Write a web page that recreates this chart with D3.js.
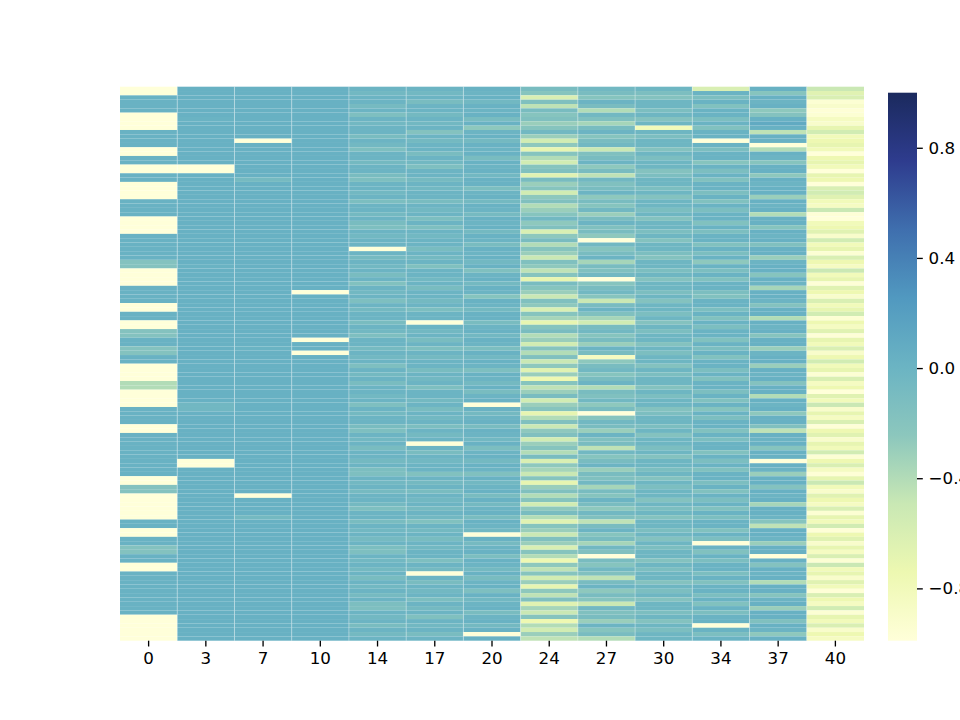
<!DOCTYPE html>
<html>
<head>
<meta charset="utf-8">
<script src="https://cdn.jsdelivr.net/npm/d3@7"></script>
<style>
  body { margin: 0; background: #fff; }
  svg { display: block; }
  text { font-family: "DejaVu Sans", sans-serif; }
</style>
</head>
<body>
<div id="chart"></div>
<script>
// column labels (x axis)
const columns = ['0', '3', '7', '10', '14', '17', '20', '24', '27', '30', '34', '37', '40']
const cbTicks = [-0.8, -0.4, 0, 0.4, 0.8]
const vmin = -0.99
const vmax = 1.0

// one array per column, rows from top to bottom
const c0 = [
  -.99,-.99,.02,.02,.02,.02,-.99,-.99,-.99,-.99,.02,.02,.02,.02,-.99,-.99,
  .02,.02,-.99,-.99,.02,.02,-.99,-.99,-.99,-.99,.02,.02,.02,.02,-.99,-.99,
  -.99,-.99,.02,.02,.02,.02,.02,.02,-.18,-.18,-.99,-.99,-.99,-.99,.02,.02,
  .02,.02,-.99,-.99,.02,.02,-.99,-.99,-.18,-.18,.02,.02,-.18,-.18,.02,.02,
  -.99,-.99,-.99,-.99,-.4,-.4,-.99,-.99,-.99,-.99,.02,.02,.02,.02,-.99,-.99,
  .02,.02,.02,.02,.02,.02,.02,.02,.02,.02,-.99,-.99,-.18,-.18,-.99,-.99,
  -.99,-.99,-.99,-.99,.02,.02,-.99,-.99,.02,.02,-.18,-.18,.02,.02,-.99,-.99,
  .02,.02,.02,.02,.02,.02,.02,.02,.02,.02,-.99,-.99,-.99,-.99,-.99,-.99
]
const c3 = [
  .03,.03,.03,.03,.03,.03,.03,.01,.03,.03,.03,.03,.03,.03,.03,.03,
  .03,.03,-.99,-.99,.03,.03,.03,.03,.03,.03,.03,.03,.03,.03,.03,.03,
  .03,.03,.03,.03,.03,.03,.03,.03,.03,.01,.03,.03,.03,.03,.03,.03,
  .03,.03,.03,.03,.03,.03,.03,.03,.03,.03,.03,.03,.03,.03,.03,.03,
  .03,.03,.03,.03,.03,.03,.03,.03,.03,-.04,-.04,.03,.03,.03,.03,.03,
  .03,.03,.03,.03,.03,.03,-.99,-.99,.03,.03,.03,.03,.03,.03,.03,.03,
  .03,.03,.03,.03,.03,.03,.03,.03,.03,.03,.03,.03,.03,.03,.03,.03,
  .03,.03,.03,.03,.03,.03,.03,.03,.03,.03,.03,.03,.03,.03,.03,.03
]
const c7 = [
  .03,.03,.03,.03,.03,.03,.03,.03,.03,.03,.03,.03,-.99,.03,.03,.03,
  .03,.03,.03,.03,.03,-.08,.03,.03,.03,.03,.03,.03,.03,.03,.03,.03,
  .03,.03,.03,.03,.03,.03,.03,.03,.03,.03,.03,.03,.03,.03,.03,.03,
  .03,.03,.03,.03,.03,.03,.03,.03,.03,.03,.03,.03,.01,.03,.03,.03,
  .03,.03,.03,.03,.03,.03,.03,.03,.03,.03,.03,.03,.03,.03,.03,.03,
  .03,.03,.03,.03,.03,.03,.03,.03,.03,.03,.03,.03,.03,.03,-.99,.03,
  .03,.03,.03,-.06,.03,.03,.03,.03,.03,.03,.03,.03,.03,.03,.03,.03,
  .03,.03,.03,.03,.03,.03,.03,.03,.03,.03,.03,.03,.03,.03,.03,.03
]
const c10 = [
  .03,.03,.03,.03,.03,.03,.03,.03,.03,.03,.03,.03,.03,.03,.03,.03,
  .03,.03,.03,.03,.03,.03,.03,.03,.03,.03,.03,.03,.03,.03,.03,.03,
  .03,.03,.03,.03,.03,.03,.03,.03,.03,.03,.03,.03,.03,.03,.03,-.99,
  .03,.03,.03,.03,.03,.03,.03,.03,.03,.03,-.99,.03,.03,-.99,.03,.03,
  .03,.03,.03,.03,.03,.03,.03,.03,.03,.03,.03,.03,.03,.03,.03,.03,
  .03,.03,.03,.03,.03,.03,.03,.03,.03,.03,.03,.03,.03,.03,.03,.03,
  .03,.03,.03,.03,.03,.03,.03,.03,.03,.03,.03,.03,.03,.03,.03,.03,
  .03,.03,.03,.03,.03,.03,.03,.03,.03,.03,.03,.03,.03,.03,.03,.03
]
const c14 = [
  0,-.05,0,0,-.08,0,-.14,0,-.05,0,0,-.1,0,-.05,-.14,0,
  0,-.06,0,0,-.1,-.14,0,0,-.05,0,-.12,0,0,-.06,0,-.1,
  -.14,0,-.05,0,0,-.99,0,-.08,0,-.05,0,-.1,0,-.16,0,-.05,
  0,-.14,0,-.06,0,0,-.1,0,-.05,-.14,0,0,-.08,0,-.05,0,
  -.14,0,-.06,0,-.1,0,0,-.05,0,-.14,0,-.06,0,0,-.1,-.14,
  0,-.05,0,-.1,0,0,-.06,0,-.12,-.14,0,-.05,0,-.08,0,0,
  -.06,-.14,0,0,-.1,0,-.05,0,-.08,0,-.12,-.14,0,-.05,0,-.06,
  0,-.1,0,-.05,0,-.08,0,-.12,-.14,0,-.05,0,-.1,0,-.06,0
]
const c17 = [
  0,-.05,0,-.1,0,0,-.06,0,-.05,0,-.18,0,-.06,0,0,-.1,
  0,-.05,-.14,0,0,-.08,0,-.05,0,0,-.1,0,-.05,0,-.12,0,
  -.14,0,-.05,0,0,-.1,0,-.06,0,-.15,0,0,-.05,0,-.1,0,
  0,-.06,0,-.12,0,0,-.99,0,-.05,0,-.1,0,-.14,0,-.06,0,
  0,-.1,0,-.05,0,-.14,0,0,-.06,0,-.1,0,-.05,0,-.12,0,
  -.06,0,-.99,0,-.1,0,-.05,0,0,-.16,0,-.06,0,-.1,0,-.05,
  0,-.08,0,-.05,-.16,0,-.06,0,-.1,0,-.05,0,0,-.14,0,-.06,
  -.99,0,-.1,0,-.05,0,-.12,0,-.06,0,-.15,0,-.05,0,-.1,0
]
const c20 = [
  .02,0,.02,-.05,.02,0,.02,-.1,.02,-.25,0,.02,-.06,.02,0,.02,
  -.1,.02,0,.02,-.05,.02,.02,-.12,0,.02,-.06,.02,0,-.08,.02,0,
  .02,-.06,.02,0,-.1,.02,0,.02,-.05,.02,-.15,0,.02,-.06,.02,0,
  -.2,.02,0,-.06,.02,.02,-.1,0,.02,-.05,.02,0,-.12,.02,-.05,.02,
  0,-.14,.02,0,-.06,.02,-.1,0,.02,-.99,.02,-.06,0,.02,-.1,.02,
  0,-.05,.02,-.12,0,.02,-.06,.02,0,-.15,.02,-.05,0,.02,-.1,.02,
  -.06,0,.02,-.1,.02,0,-.05,-.99,.02,-.08,0,.02,-.12,.02,0,-.06,
  .02,-.1,0,.02,-.14,.02,-.05,0,.02,-.1,0,.02,-.06,.02,-.99,.02
]
const c24 = [
  -.1,-.2,-.6,-.15,-.45,-.1,-.2,-.15,-.3,-.2,-.05,-.3,-.55,-.25,-.7,-.2,
  -.4,-.55,-.2,-.15,-.65,-.1,-.3,-.2,-.55,-.25,-.15,-.4,-.3,-.2,-.05,-.25,
  -.15,-.6,-.25,-.1,-.4,-.2,-.3,-.5,-.15,-.25,-.45,-.2,-.7,-.1,-.2,-.3,
  -.5,-.15,-.25,-.6,-.2,-.35,-.7,-.2,-.1,-.4,-.3,-.55,-.2,-.4,-.15,-.5,
  -.25,-.65,-.3,-.75,-.2,-.45,-.3,-.1,-.55,-.3,-.2,-.7,-.4,-.15,-.5,-.25,
  -.15,-.55,-.3,-.2,-.4,-.1,-.6,-.25,-.35,-.5,-.2,-.7,-.3,-.15,-.4,-.2,
  -.55,-.25,-.1,-.4,-.65,-.2,-.3,-.5,-.15,-.3,-.6,-.2,-.4,-.75,-.25,-.45,
  -.2,-.55,-.3,-.7,-.25,-.45,-.15,-.65,-.35,-.5,-.2,-.75,-.4,-.55,-.3,-.45
]
const c27 = [
  -.05,-.1,-.2,0,-.1,-.4,-.05,-.15,-.35,-.1,0,-.2,-.1,-.05,-.5,-.15,
  -.1,0,-.25,-.1,-.45,-.05,-.15,-.1,0,-.25,-.1,-.2,-.05,-.3,-.1,0,
  -.15,-.1,-.25,-.99,-.05,-.2,-.1,0,-.35,-.1,-.15,-.05,-.99,-.2,-.1,-.05,
  -.2,-.5,-.1,0,-.15,-.35,-.55,-.1,-.05,-.2,-.1,-.3,0,-.1,-.85,-.25,
  -.1,-.05,-.2,-.1,0,-.4,-.1,-.15,-.05,-.25,-.1,-.99,-.2,-.05,-.1,-.3,
  0,-.15,-.1,-.45,-.05,-.2,-.1,0,-.3,-.1,-.15,-.05,-.35,-.1,-.2,0,
  -.1,-.25,-.05,-.15,-.45,-.1,0,-.2,-.1,-.35,-.05,-.15,-.99,-.1,-.2,-.05,
  -.15,-.45,-.1,0,-.25,-.1,-.2,-.5,-.05,-.15,-.1,-.3,0,-.2,-.1,-.4
]
const c30 = [
  -.02,-.12,-.18,-.02,-.02,-.12,-.02,-.18,-.02,-.8,-.02,-.12,-.02,-.02,-.18,-.02,
  -.12,-.02,-.02,-.18,-.12,-.02,-.02,-.12,-.02,-.18,-.02,-.02,-.12,-.02,-.18,-.02,
  -.02,-.12,-.02,-.18,-.02,-.02,-.12,-.18,-.02,-.02,-.12,-.02,-.18,-.02,-.02,-.12,
  -.02,-.18,-.02,-.02,-.12,-.02,-.18,-.02,-.12,-.02,-.02,-.18,-.02,-.12,-.02,-.02,
  -.18,-.02,-.12,-.02,-.02,-.18,-.02,-.12,-.02,-.02,-.18,-.12,-.02,-.02,-.12,-.02,
  -.18,-.02,-.02,-.12,-.02,-.18,-.02,-.02,-.12,-.02,-.18,-.02,-.12,-.02,-.02,-.18,
  -.02,-.12,-.02,-.18,-.02,-.02,-.12,-.02,-.18,-.02,-.12,-.02,-.02,-.18,-.02,-.12,
  -.02,-.02,-.18,-.02,-.12,-.02,-.18,-.02,-.02,-.12,-.02,-.18,-.02,-.12,-.02,-.02
]
const c34 = [
  -.6,.01,-.12,.01,-.16,.01,.01,-.12,.01,-.16,.01,.01,-.99,.01,-.12,.01,
  .01,-.2,.01,-.12,.01,-.16,.01,.01,-.12,.01,-.16,.01,-.12,.01,.01,-.16,
  .01,-.12,.01,.01,-.16,.01,-.12,.01,-.25,.01,-.12,.01,-.16,.01,.01,-.12,
  -.16,.01,.01,-.12,.01,-.16,.01,-.12,.01,.01,-.16,.01,-.12,.01,-.16,.01,
  .01,-.12,.01,-.16,.01,.01,-.12,.01,-.16,.01,-.2,.01,-.12,.01,.01,-.16,
  .01,-.12,.01,.01,-.16,.01,-.12,.01,-.16,.01,.01,-.12,.01,-.16,.01,-.12,
  .01,-.16,.01,-.12,.01,.01,-.16,.01,-.12,-.99,.01,-.16,.01,-.12,.01,.01,
  -.12,.01,-.16,.01,.01,-.12,.01,-.16,.01,-.12,.01,.01,-.99,.01,-.12,.01
]
const c37 = [
  .03,-.2,.03,0,.03,-.25,-.18,.03,.1,.03,-.45,.03,.03,-.99,-.4,.03,
  0,-.2,.03,.03,-.25,.03,0,.03,.03,-.3,.03,0,.03,-.4,.03,.03,
  -.2,.03,0,.03,-.15,.03,.03,-.3,0,.03,.03,-.2,.03,0,-.35,.03,
  .03,0,-.18,.03,.03,-.4,.03,0,.03,-.2,.03,.03,-.3,0,.03,.03,
  -.3,.03,0,.03,-.18,.03,.03,-.4,.03,0,.03,-.25,.03,.03,-.15,-.45,
  .03,0,.03,-.2,.03,.03,-.99,.03,0,-.3,.03,.03,-.18,.03,0,.03,
  -.35,.03,.03,0,-.2,-.45,.03,.03,0,-.3,.03,.03,-.99,.03,-.18,.03,
  0,.03,-.4,.03,.03,-.2,0,.03,-.3,.03,.03,-.15,.03,0,-.25,.03
]
const c40 = [
  -.5,-.65,-.6,-.95,-.9,-.97,-.95,-.85,-.9,-.7,-.55,-.8,-.75,-.7,-.8,-.99,
  -.75,-.7,-.8,-.99,-.7,-.75,-.99,-.6,-.55,-.65,-.8,-.85,-.5,-.97,-.99,-.8,
  -.75,-.65,-.9,-.55,-.8,-.7,-.95,-.6,-.75,-.85,-.5,-.8,-.7,-.97,-.65,-.75,
  -.9,-.6,-.8,-.7,-.55,-.95,-.75,-.85,-.65,-.97,-.7,-.8,-.6,-.9,-.75,-.55,
  -.8,-.7,-.95,-.6,-.85,-.75,-.99,-.65,-.8,-.5,-.9,-.7,-.85,-.6,-.97,-.75,
  -.65,-.9,-.7,-.8,-.55,-.95,-.75,-.6,-.85,-.97,-.7,-.5,-.8,-.9,-.65,-.75,
  -.85,-.6,-.95,-.7,-.8,-.55,-.97,-.75,-.65,-.9,-.7,-.85,-.6,-.95,-.5,-.8,
  -.7,-.9,-.65,-.8,-.97,-.6,-.75,-.85,-.55,-.95,-.7,-.8,-.6,-.9,-.75,-.85
]
const series = [c0, c3, c7, c10, c14, c17, c20, c24, c27, c30, c34, c37, c40]

// YlGnBu stops, toned to the muted look of the picture
const ylgnbu = ['#ffffd9', '#edf8b1', '#c9e8b4', '#8cc7bd', '#6bb4c3', '#5199c0', '#3f6fae', '#2e3c8e', '#1b2a5e']

const width = 960
const height = 720
const plot = { left: 120, right: 864, top: 86.7, bottom: 640.7 }
const bar = { left: 888, width: 29, top: 92.7, bottom: 640.7 }
const fontSize = 16.7
const tickLen = 5.8

const svg = d3.select('#chart')
  .append('svg')
    .attr('width', width)
    .attr('height', height)

svg.append('rect').attr('width', width).attr('height', height).attr('fill', '#fff')

const nRows = c0.length
const x = d3.scaleBand().domain(columns).range([plot.left, plot.right])
const y = d3.scaleBand().domain(d3.range(nRows)).range([plot.top, plot.bottom])
const color = d3.scaleLinear()
  .domain(ylgnbu.map((d, i) => vmin + i * (vmax - vmin) / (ylgnbu.length - 1)))
  .range(ylgnbu)
  .interpolate(d3.interpolateRgb)
  .clamp(true)

// cells
const cols = svg.append('g').selectAll('g')
  .data(series)
  .join('g')
    .attr('transform', (d, i) => `translate(${x(columns[i])},0)`)
cols.selectAll('rect')
  .data(d => d)
  .join('rect')
    .attr('x', 0)
    .attr('y', (d, i) => y(i))
    .attr('width', x.bandwidth())
    .attr('height', y.bandwidth())
    .attr('fill', d => color(d))

// light seams between columns
svg.append('g').selectAll('line')
  .data(columns.slice(1))
  .join('line')
    .attr('x1', d => x(d)).attr('x2', d => x(d))
    .attr('y1', plot.top).attr('y2', plot.bottom)
    .attr('stroke', '#fff')
    .attr('stroke-opacity', 0.35)
    .attr('stroke-width', 1)

// x axis
const xAxis = svg.append('g')
  .attr('transform', `translate(0,${plot.bottom})`)
  .call(d3.axisBottom(x).tickSize(tickLen).tickPadding(5.8))
xAxis.select('.domain').remove()
xAxis.selectAll('line').attr('stroke', '#000').attr('stroke-width', 1.33)
xAxis.selectAll('text').attr('font-size', fontSize).attr('fill', '#000')
  .style('font-family', '"DejaVu Sans", sans-serif')

// colorbar
const defs = svg.append('defs')
const grad = defs.append('linearGradient')
  .attr('id', 'cbar')
  .attr('x1', 0).attr('y1', 1).attr('x2', 0).attr('y2', 0)
grad.selectAll('stop')
  .data(ylgnbu)
  .join('stop')
    .attr('offset', (d, i) => i / (ylgnbu.length - 1))
    .attr('stop-color', d => d)
svg.append('rect')
  .attr('x', bar.left)
  .attr('y', bar.top)
  .attr('width', bar.width)
  .attr('height', bar.bottom - bar.top)
  .attr('fill', 'url(#cbar)')

const cy = d3.scaleLinear().domain([vmin, vmax]).range([bar.bottom, bar.top])
const cAxis = svg.append('g')
  .attr('transform', `translate(${bar.left + bar.width},0)`)
  .call(d3.axisRight(cy).tickValues(cbTicks).tickFormat(d3.format('.1f')).tickSize(tickLen).tickPadding(5.8))
cAxis.select('.domain').remove()
cAxis.selectAll('line').attr('stroke', '#000').attr('stroke-width', 1.33)
cAxis.selectAll('text').attr('font-size', fontSize).attr('fill', '#000')
  .style('font-family', '"DejaVu Sans", sans-serif')
</script>
</body>
</html>
